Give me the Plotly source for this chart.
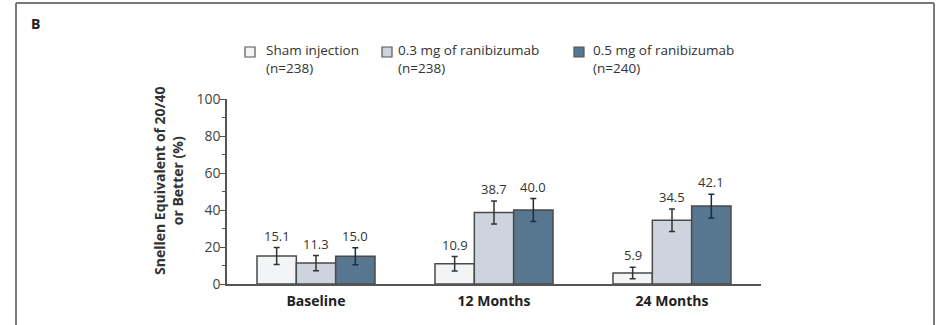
import plotly.graph_objects as go

categories = ["Baseline", "12 Months", "24 Months"]
series_names = ["Sham injection", "0.3 mg of ranibizumab", "0.5 mg of ranibizumab"]
series_n = ["(n=238)", "(n=238)", "(n=240)"]
sham = [15.1, 10.9, 5.9]
rbz03 = [11.3, 38.7, 34.5]
rbz05 = [15.0, 40.0, 42.1]
sham_err = [4.6, 3.9, 3.1]
rbz03_err = [4.1, 6.2, 6.1]
rbz05_err = [4.6, 6.2, 6.4]
y_ticks = [0, 20, 40, 60, 80, 100]

values = [sham, rbz03, rbz05]
errors = [sham_err, rbz03_err, rbz05_err]
fills = ["#f2f4f6", "#cdd4dd", "#57768f"]
errcolors = ["#333333", "#333333", "#1c2c3c"]

W, H = 941, 325
ML, MR, MT, MB = 227, 180, 99, 41
PW, PH = W - ML - MR, H - MT - MB
FONT = "Open Sans"


def px(xp):
    return (xp - ML) / PW


def py(yp):
    return (H - MB - yp) / PH


fig = go.Figure()
for i in range(3):
    fig.add_trace(go.Bar(
        x=categories, y=values[i], name=series_names[i],
        marker=dict(color=fills[i], line=dict(color="#4a4a4a", width=1.5)),
        error_y=dict(type="data", array=errors[i], visible=True,
                     color=errcolors[i], thickness=1.5, width=3),
        showlegend=False,
    ))

bargap = 0.337
bar_px = PW / len(categories) * (1 - bargap) / 3

annotations = []
for i in range(3):
    for j, c in enumerate(categories):
        annotations.append(dict(
            x=c, y=values[i][j] + errors[i][j], xref="x", yref="y",
            text=f"{values[i][j]:.1f}", showarrow=False,
            xshift=(i - 1) * bar_px, yshift=12, yanchor="middle",
            font=dict(family=FONT, size=13, color="#333333"),
        ))

# y axis title
annotations.append(dict(
    x=px(168), y=py(181), xref="paper", yref="paper",
    text="<b>Snellen Equivalent of 20/40<br>or Better (%)</b>",
    textangle=-90, showarrow=False, xanchor="center", yanchor="middle",
    font=dict(family=FONT, size=14, color="#333333"),
))

# panel label
annotations.append(dict(
    x=px(29), y=py(23), xref="paper", yref="paper", text="<b>B</b>",
    showarrow=False, xanchor="left", yanchor="middle",
    font=dict(family=FONT, size=14, color="#222222"),
))

# legend (manual)
sq_x = [245, 382, 574]
txt_x = [264, 396, 591]
shapes = []
for i in range(3):
    shapes.append(dict(
        type="rect", xref="paper", yref="paper",
        x0=px(sq_x[i]), x1=px(sq_x[i] + 10), y0=py(57), y1=py(47),
        fillcolor=fills[i], line=dict(color="#555555", width=1.2),
    ))
    annotations.append(dict(
        x=px(txt_x[i]), y=py(58.5), xref="paper", yref="paper",
        text=f"{series_names[i]}<br>{series_n[i]}", align="left",
        showarrow=False, xanchor="left", yanchor="middle",
        font=dict(family=FONT, size=13.5, color="#333333"),
    ))

# frame
frame = dict(color="#7a7a7a", width=2)
shapes.append(dict(type="line", xref="paper", yref="paper",
                   x0=px(16), x1=px(16), y0=py(3), y1=py(H + 5), line=frame))
shapes.append(dict(type="line", xref="paper", yref="paper",
                   x0=px(934), x1=px(934), y0=py(3), y1=py(H + 5), line=frame))
shapes.append(dict(type="line", xref="paper", yref="paper",
                   x0=px(16), x1=px(934), y0=py(3), y1=py(3), line=frame))

fig.update_layout(
    width=W, height=H,
    margin=dict(l=ML, r=MR, t=MT, b=MB),
    paper_bgcolor="white", plot_bgcolor="white",
    barmode="group", bargap=bargap, bargroupgap=0,
    annotations=annotations, shapes=shapes,
    font=dict(family=FONT, size=13, color="#333333"),
    xaxis=dict(
        range=[-0.5, 2.5], showline=True, linecolor="#555555", linewidth=1.5,
        ticks="", showgrid=False, zeroline=False, ticklabelstandoff=3,
        tickfont=dict(family=FONT, size=14, color="#222222", weight="bold"),
    ),
    yaxis=dict(
        range=[0, 100], tickvals=y_ticks, showline=True, linecolor="#555555",
        linewidth=1.5, ticks="outside", ticklen=5, tickcolor="#555555",
        tickwidth=1.2, showgrid=False, zeroline=False, ticklabelstandoff=-3,
        tickfont=dict(family=FONT, size=14, color="#444444"),
        minor=dict(dtick=10, ticks="outside", ticklen=3, tickcolor="#555555",
                   tickwidth=1.2, showgrid=False),
    ),
)

fig.write_html(
    "out.html",
    config={"displayModeBar": False},
    post_script="document.body.style.margin='0';document.body.style.overflow='hidden';",
)
